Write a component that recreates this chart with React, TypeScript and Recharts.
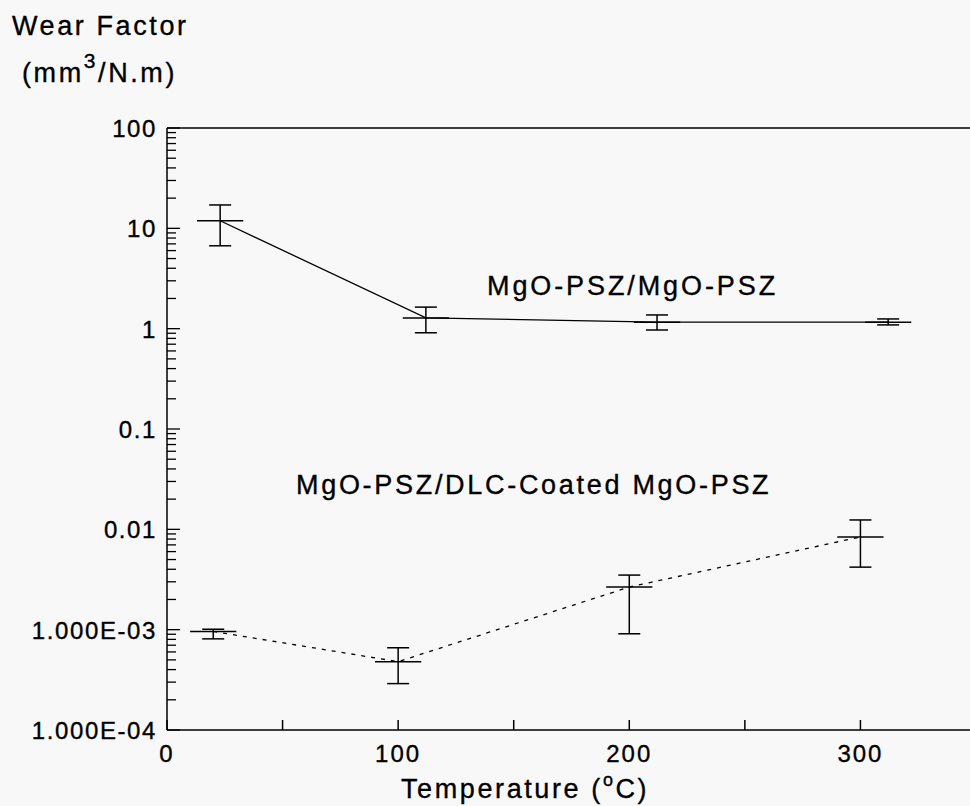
import {
  ScatterChart,
  Scatter,
  XAxis,
  YAxis,
  ErrorBar,
  ReferenceLine,
  Customized,
} from "recharts";

// MgO-PSZ / MgO-PSZ
const tempsPsz = [23, 112, 212, 312];
const wearPsz = [11.9, 1.28, 1.16, 1.16];
const errPsz = [
  [5.2, 5.2],
  [0.37, 0.36],
  [0.19, 0.21],
  [0.07, 0.09],
];

// MgO-PSZ / DLC-coated MgO-PSZ
const tempsDlc = [20, 100, 200, 300];
const wearDlc = [0.00096, 0.00048, 0.00266, 0.0084];
const errDlc = [
  [0.00015, 0.00005],
  [0.00019, 0.00018],
  [0.00175, 0.00084],
  [0.0042, 0.004],
];

const tempErr = 10;

const xTicks = [0, 50, 100, 150, 200, 250, 300];
const xTickLabels = ["0", "", "100", "", "200", "", "300"];
const yDecades = [0.0001, 0.001, 0.01, 0.1, 1, 10, 100];
const yDecadeLabels = ["1.000E-04", "1.000E-03", "0.01", "0.1", "1", "10", "100"];

const pszData = tempsPsz.map((t, i) => ({ t, w: wearPsz[i], yErr: errPsz[i], xErr: tempErr }));
const dlcData = tempsDlc.map((t, i) => ({ t, w: wearDlc[i], yErr: errDlc[i], xErr: tempErr }));

const yTicks: number[] = [];
yDecades.forEach((d, i) => {
  if (i === yDecades.length - 1) {
    yTicks.push(d);
    return;
  }
  for (let m = 1; m <= 9; m++) yTicks.push(m * d);
});

const FONT = "'Liberation Sans', Arial, Helvetica, sans-serif";
const ink = { fill: "#000", stroke: "#000", strokeWidth: 0.35, fontFamily: FONT };

const XTick = (props: any) => {
  const { x, y, payload } = props;
  const idx = xTicks.indexOf(payload.value);
  const label = idx >= 0 ? xTickLabels[idx] : "";
  return (
    <g>
      <line x1={x} y1={y} x2={x} y2={y - 10} stroke="#000" strokeWidth={1.5} />
      {label && (
        <text x={x} y={y + 32} textAnchor="middle" fontSize={24} letterSpacing={2} {...ink}>
          {label}
        </text>
      )}
    </g>
  );
};

const YTick = (props: any) => {
  const { x, y, payload } = props;
  const v = payload.value;
  const idx = yDecades.findIndex((d) => Math.abs(d - v) / d < 1e-6);
  const major = idx >= 0;
  return (
    <g>
      <line x1={x} y1={y} x2={x + (major ? 13 : 9)} y2={y} stroke="#000" strokeWidth={1.3} />
      {major && (
        <text x={x - 10} y={y + 9} textAnchor="end" fontSize={24} letterSpacing={1.6} {...ink}>
          {yDecadeLabels[idx]}
        </text>
      )}
    </g>
  );
};

const NoDot = () => <g />;

const Labels = () => (
  <g {...ink}>
    <text x={12} y={35} fontSize={27} letterSpacing={2.6}>
      Wear Factor
    </text>
    <text x={22} y={82} fontSize={27} letterSpacing={2.6}>
      (mm
      <tspan dy={-14} fontSize={21}>3</tspan>
      <tspan dy={14}>/N.m)</tspan>
    </text>
    <text x={401} y={798} fontSize={27} letterSpacing={2.6}>
      Temperature (
      <tspan dy={-12} fontSize={18}>o</tspan>
      <tspan dy={12}>C)</tspan>
    </text>
    <text x={487} y={295} fontSize={27} letterSpacing={2.9}>
      MgO-PSZ/MgO-PSZ
    </text>
    <text x={296} y={494} fontSize={27} letterSpacing={2.7}>
      MgO-PSZ/DLC-Coated MgO-PSZ
    </text>
  </g>
);

export default function App() {
  return (
    <div
      style={{
        position: "absolute",
        left: 0,
        top: 0,
        width: 970,
        height: 806,
        overflow: "hidden",
        background: "#f8f8f8",
      }}
    >
      <ScatterChart width={976} height={806} margin={{ top: 128, right: 0, left: 7, bottom: 36 }}>
        <XAxis
          type="number"
          dataKey="t"
          domain={[0, 350]}
          ticks={xTicks}
          interval={0}
          allowDataOverflow
          height={40}
          tickSize={0}
          tickMargin={0}
          tick={<XTick />}
          axisLine={{ stroke: "#000", strokeWidth: 1.5 }}
        />
        <YAxis
          type="number"
          dataKey="w"
          scale="log"
          domain={[0.0001, 100]}
          ticks={yTicks}
          interval={0}
          allowDataOverflow
          width={160}
          tickSize={0}
          tickMargin={0}
          tick={<YTick />}
          axisLine={{ stroke: "#000", strokeWidth: 1.5 }}
        />
        <ReferenceLine y={100} stroke="#000" strokeWidth={1.5} />
        <Scatter
          data={pszData}
          fill="#000"
          shape={<NoDot />}
          line={{ stroke: "#000", strokeWidth: 1.3 }}
          isAnimationActive={false}
        >
          <ErrorBar dataKey="yErr" direction="y" width={11} stroke="#000" strokeWidth={1.5} />
          <ErrorBar dataKey="xErr" direction="x" width={0} stroke="#000" strokeWidth={1.5} />
        </Scatter>
        <Scatter
          data={dlcData}
          fill="#000"
          shape={<NoDot />}
          line={{ stroke: "#000", strokeWidth: 1.3, strokeDasharray: "4 6" }}
          isAnimationActive={false}
        >
          <ErrorBar dataKey="yErr" direction="y" width={11} stroke="#000" strokeWidth={1.5} />
          <ErrorBar dataKey="xErr" direction="x" width={0} stroke="#000" strokeWidth={1.5} />
        </Scatter>
        <Customized component={Labels} />
      </ScatterChart>
    </div>
  );
}
